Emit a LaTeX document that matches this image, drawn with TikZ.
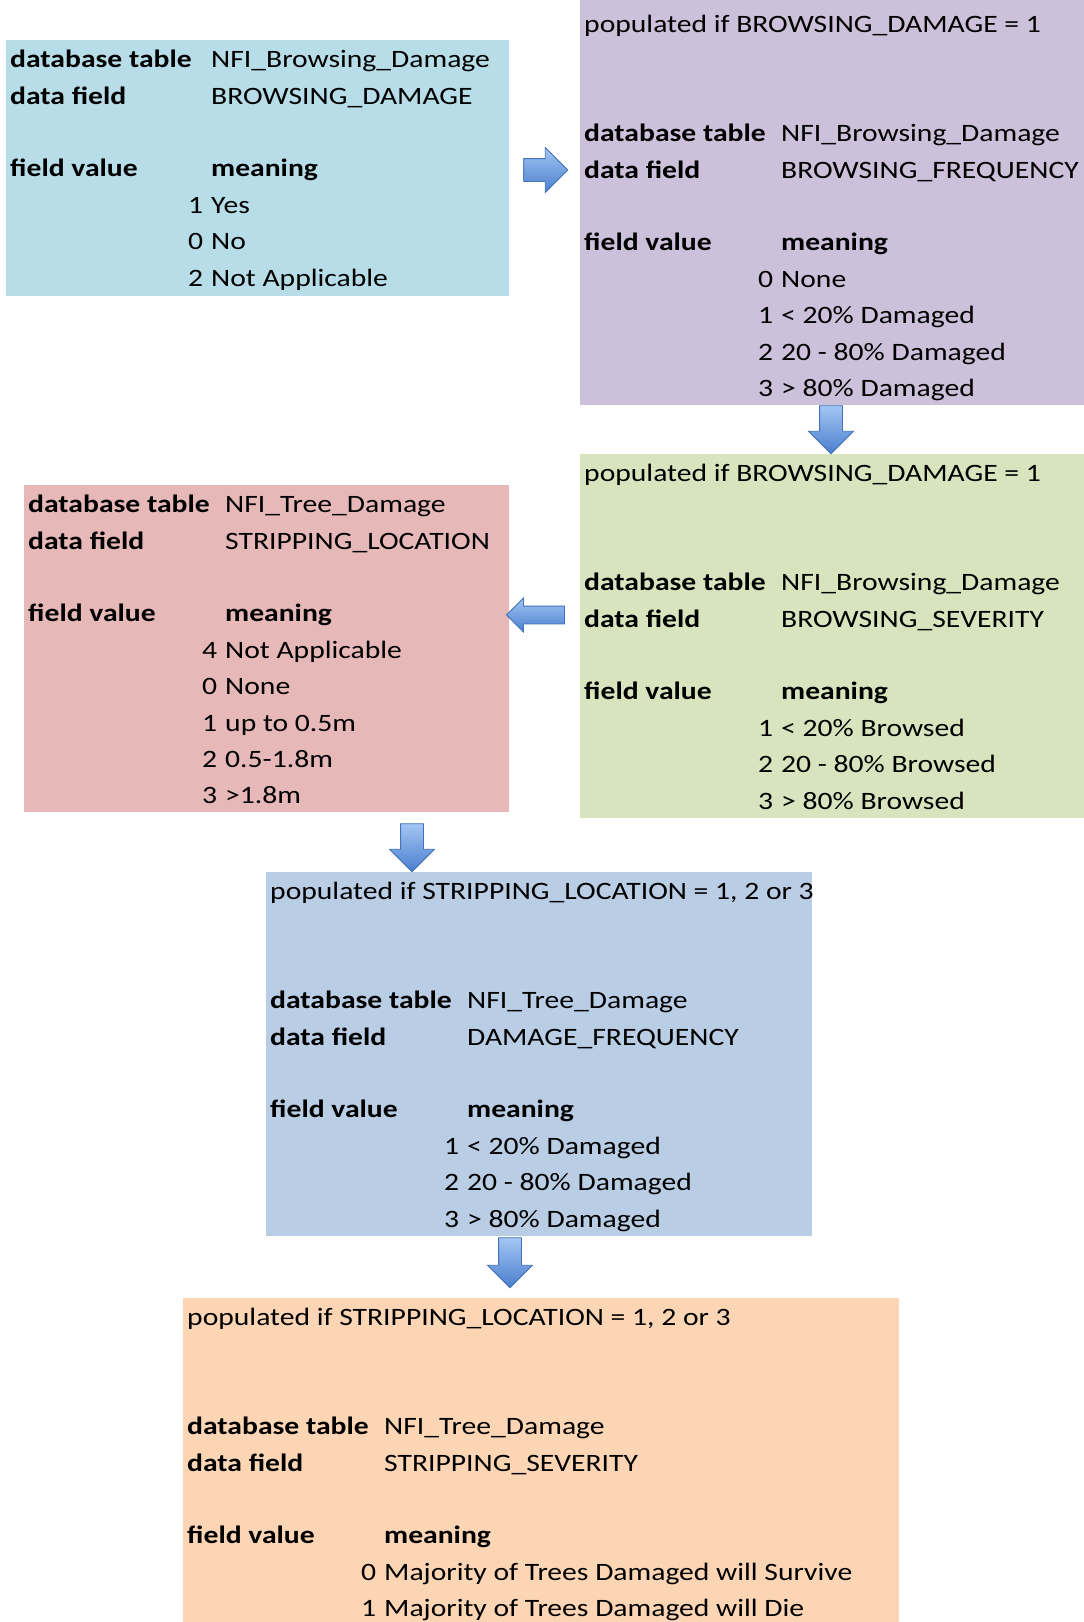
\documentclass[tikz,border=0pt]{standalone}
\usepackage{fontspec}
\setmainfont{Carlito}[FakeStretch=1.185]
\usepackage{xcolor}
\usetikzlibrary{shapes.arrows, positioning}

\definecolor{boxcyan}{HTML}{B7DDE8}
\definecolor{boxpurple}{HTML}{CCC0DA}
\definecolor{boxgreen}{HTML}{D7E4BD}
\definecolor{boxred}{HTML}{E6B9B8}
\definecolor{boxblue}{HTML}{B9CDE5}
\definecolor{boxorange}{HTML}{FCD5B5}
\definecolor{arrowtop}{HTML}{A3C6F4}
\definecolor{arrowbottom}{HTML}{4A7ECD}
\definecolor{arrowline}{HTML}{4272B8}

\newlength{\valuecol}
\setlength{\valuecol}{197pt}
\newcommand{\panelbody}[4][10pt]{\parbox[t][#2][t]{#3}{\raggedright\vspace*{#1}#4}}
\newcommand{\fieldrow}[2]{\makebox[\valuecol][l]{\bfseries #1}#2}
\newcommand{\valuerow}[2]{\makebox[\valuecol][r]{#1\hspace{8pt}}#2}

\begin{document}
\begin{tikzpicture}[
  x=1pt, y=-1pt,
  panel/.style={anchor=north west, inner xsep=4pt, inner ysep=0pt, font=\fontsize{25}{36.4}\selectfont},
  flowarrow/.style={single arrow, draw=arrowline, thick, top color=arrowtop, bottom color=arrowbottom, inner sep=11pt, single arrow head extend=11pt, minimum size=0pt}
]
  \useasboundingbox (0,0) rectangle (1084,1622);

  \node [panel, fill=boxcyan] (damage) at (6,40) {\panelbody{256pt}{495pt}{%
    \setlength{\valuecol}{201pt}%
    \fieldrow{database table}{NFI\_Browsing\_Damage}\\
    \fieldrow{data field}{BROWSING\_DAMAGE}\\
    \mbox{}\\
    \fieldrow{field value}{\textbf{meaning}}\\
    \valuerow{1}{Yes}\\
    \valuerow{0}{No}\\
    \valuerow{2}{Not Applicable}}};

  \node [panel, fill=boxpurple] (frequency) at (580,0) {\panelbody[15pt]{405pt}{496pt}{%
    populated if BROWSING\_DAMAGE = 1\\
    \mbox{}\\
    \mbox{}\\
    \fieldrow{database table}{NFI\_Browsing\_Damage}\\
    \fieldrow{data field}{BROWSING\_FREQUENCY}\\
    \mbox{}\\
    \fieldrow{field value}{\textbf{meaning}}\\
    \valuerow{0}{None}\\
    \valuerow{1}{< 20\% Damaged}\\
    \valuerow{2}{20 - 80\% Damaged}\\
    \valuerow{3}{> 80\% Damaged}}};

  \node [panel, fill=boxgreen] (severity) at (580,454) {\panelbody{364pt}{496pt}{%
    populated if BROWSING\_DAMAGE = 1\\
    \mbox{}\\
    \mbox{}\\
    \fieldrow{database table}{NFI\_Browsing\_Damage}\\
    \fieldrow{data field}{BROWSING\_SEVERITY}\\
    \mbox{}\\
    \fieldrow{field value}{\textbf{meaning}}\\
    \valuerow{1}{< 20\% Browsed}\\
    \valuerow{2}{20 - 80\% Browsed}\\
    \valuerow{3}{> 80\% Browsed}}};

  \node [panel, fill=boxred] (location) at (24,485) {\panelbody{327pt}{477pt}{%
    \fieldrow{database table}{NFI\_Tree\_Damage}\\
    \fieldrow{data field}{STRIPPING\_LOCATION}\\
    \mbox{}\\
    \fieldrow{field value}{\textbf{meaning}}\\
    \valuerow{4}{Not Applicable}\\
    \valuerow{0}{None}\\
    \valuerow{1}{up to 0.5m}\\
    \valuerow{2}{0.5-1.8m}\\
    \valuerow{3}{>1.8m}}};

  \node [panel, fill=boxblue] (dmgfreq) at (266,872) {\panelbody{364pt}{538pt}{%
    \mbox{populated if STRIPPING\_LOCATION = 1, 2 or 3}\\
    \mbox{}\\
    \mbox{}\\
    \fieldrow{database table}{NFI\_Tree\_Damage}\\
    \fieldrow{data field}{DAMAGE\_FREQUENCY}\\
    \mbox{}\\
    \fieldrow{field value}{\textbf{meaning}}\\
    \valuerow{1}{< 20\% Damaged}\\
    \valuerow{2}{20 - 80\% Damaged}\\
    \valuerow{3}{> 80\% Damaged}}};

  \node [panel, fill=boxorange] (stripsev) at (183,1298) {\panelbody{345pt}{708pt}{%
    populated if STRIPPING\_LOCATION = 1, 2 or 3\\
    \mbox{}\\
    \mbox{}\\
    \fieldrow{database table}{NFI\_Tree\_Damage}\\
    \fieldrow{data field}{STRIPPING\_SEVERITY}\\
    \mbox{}\\
    \fieldrow{field value}{\textbf{meaning}}\\
    \valuerow{0}{Majority of Trees Damaged will Survive}\\
    \valuerow{1}{Majority of Trees Damaged will Die}}};

  \node [flowarrow, minimum height=44pt] (tofrequency) at (540,170) {};
  \node [flowarrow, shape border rotate=270, minimum height=48pt] (toseverity) at (831,424) {};
  \node [flowarrow, shape border rotate=180, inner sep=8.5pt, single arrow head extend=8pt, minimum height=58pt] (tolocation) at (540,615) {};
  \node [flowarrow, shape border rotate=270, minimum height=48pt] (todmgfreq) at (412,842) {};
  \node [flowarrow, shape border rotate=270, minimum height=50pt] (tostripsev) at (510,1257) {};
\end{tikzpicture}
\end{document}
